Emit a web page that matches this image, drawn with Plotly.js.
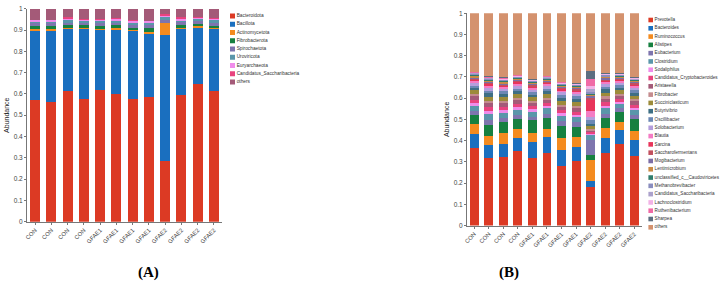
<!DOCTYPE html>
<html><head><meta charset="utf-8">
<script src="https://cdn.plot.ly/plotly-3.0.1.min.js"></script>
<style>html,body{margin:0;padding:0;background:#fff}#chart{width:720px;height:287px}</style>
</head><body><div id="chart"></div>
<script>
// ---------- shared ----------
const sampleIds = ['s1','s2','s3','s4','s5','s6','s7','s8','s9','s10','s11','s12'];
const sampleLabels = ['CON','CON','CON','CON','GFAE1','GFAE1','GFAE1','GFAE1','GFAE2','GFAE2','GFAE2','GFAE2'];

// ---------- panel A: phyla ----------
const phylaNames = ['Bacteroidota','Bacillota','Actinomycetota','Fibrobacterota','Spirochaetota','Uroviricota','Euryarchaeota','Candidatus_Saccharibacteria','others'];
const phylaColors = ['#DC3A24','#1A6FBF','#F48B1F','#168040','#7E75AE','#5A96AA','#F08CEB','#E8437E','#A45A78'];
const bacteroidota   = [0.571,0.560,0.612,0.578,0.617,0.601,0.575,0.586,0.283,0.593,0.648,0.615];
const bacillota      = [0.326,0.335,0.293,0.327,0.283,0.299,0.318,0.296,0.594,0.310,0.262,0.290];
const actinomycetota = [0.008,0.010,0.006,0.006,0.006,0.008,0.006,0.008,0.054,0.007,0.008,0.006];
const fibrobacterota = [0.012,0.012,0.012,0.012,0.014,0.014,0.012,0.018,0.004,0.014,0.010,0.010];
const spirochaetota  = [0.014,0.014,0.012,0.012,0.012,0.012,0.014,0.014,0.010,0.012,0.012,0.014];
const uroviricota    = [0.008,0.008,0.010,0.008,0.010,0.010,0.010,0.012,0.014,0.008,0.010,0.010];
const euryarchaeota  = [0.006,0.006,0.008,0.006,0.006,0.006,0.006,0.006,0.008,0.010,0.008,0.006];
const saccharibacteriaP = [0.004,0.004,0.006,0.004,0.004,0.006,0.006,0.004,0.010,0.008,0.004,0.004];
const othersP        = [0.051,0.051,0.041,0.047,0.048,0.044,0.053,0.056,0.023,0.038,0.038,0.045];
const phylaValues = [bacteroidota,bacillota,actinomycetota,fibrobacterota,spirochaetota,uroviricota,euryarchaeota,saccharibacteriaP,othersP];

// ---------- panel B: genera ----------
const genusNames = ['Prevotella','Bacteroides','Ruminococcus','Alistipes','Eubacterium','Clostridium','Sodaliphilus','Candidatus_Cryptobacteroides','Aristaeella','Fibrobacter','Succiniclasticum','Butyrivibrio','Oscillibacter','Solobacterium','Blautia','Sarcina','Saccharofermentans','Mogibacterium','Lentimicrobium','unclassified_c__Caudoviricetes','Methanobrevibacter','Candidatus_Saccharibacteria','Lachnoclostridium','Ruthenibacterium','Sharpea','others'];
const genusColors = ['#DC3A24','#1A6FBF','#F48B1F','#168040','#7E75AE','#5A96AA','#F08CEB','#E8437E','#A45A78','#C48C8E','#9C8B3A','#3E6F84','#6C88B4','#B49EDC','#F47CC4','#E8345A','#C2505E','#7C6EA6','#C98A44','#2F7D6C','#8A8DBE','#ACA2CC','#F2B2E6','#F06AA6','#5C6E80','#D4926E'];
const prevotella        = [0.367,0.319,0.325,0.352,0.316,0.344,0.281,0.306,0.183,0.344,0.384,0.328];
const bacteroides       = [0.063,0.062,0.061,0.060,0.078,0.071,0.075,0.066,0.027,0.068,0.068,0.073];
const ruminococcus      = [0.046,0.042,0.049,0.045,0.044,0.041,0.055,0.044,0.097,0.047,0.038,0.045];
const alistipes         = [0.044,0.052,0.051,0.044,0.057,0.050,0.056,0.048,0.026,0.047,0.047,0.055];
const eubacterium       = [0.019,0.024,0.022,0.020,0.018,0.020,0.024,0.022,0.072,0.020,0.016,0.019];
const clostridium       = [0.022,0.026,0.024,0.024,0.022,0.026,0.026,0.024,0.020,0.026,0.020,0.024];
const sodaliphilus      = [0.016,0.014,0.012,0.014,0.012,0.012,0.012,0.012,0.008,0.013,0.011,0.012];
const cryptobacteroides = [0.016,0.018,0.016,0.015,0.014,0.014,0.014,0.015,0.006,0.016,0.013,0.014];
const aristaeella       = [0.016,0.018,0.016,0.017,0.016,0.015,0.015,0.016,0.008,0.016,0.014,0.015];
const fibrobacter       = [0.012,0.012,0.012,0.011,0.010,0.010,0.010,0.010,0.006,0.011,0.010,0.010];
const succiniclasticum  = [0.016,0.020,0.018,0.017,0.017,0.016,0.018,0.018,0.014,0.018,0.016,0.017];
const butyrivibrio      = [0.013,0.016,0.014,0.014,0.013,0.014,0.016,0.015,0.010,0.015,0.013,0.014];
const oscillibacter     = [0.009,0.012,0.012,0.012,0.011,0.012,0.013,0.013,0.022,0.012,0.011,0.011];
const solobacterium     = [0.013,0.012,0.010,0.012,0.011,0.011,0.012,0.011,0.012,0.012,0.010,0.011];
const blautia           = [0.008,0.010,0.009,0.010,0.009,0.009,0.008,0.009,0.028,0.010,0.008,0.009];
const sarcina           = [0.006,0.008,0.007,0.007,0.007,0.007,0.006,0.007,0.052,0.007,0.006,0.007];
const saccharofermentans= [0.006,0.006,0.006,0.006,0.006,0.006,0.006,0.006,0.010,0.006,0.005,0.006];
const mogibacterium     = [0.005,0.006,0.005,0.005,0.005,0.005,0.006,0.005,0.008,0.005,0.005,0.005];
const lentimicrobium    = [0.006,0.006,0.006,0.005,0.005,0.005,0.005,0.005,0.004,0.005,0.005,0.005];
const caudoviricetes    = [0.006,0.002,0.004,0.004,0.004,0.004,0.004,0.004,0.006,0.004,0.004,0.004];
const methanobrevibacter= [0.005,0.005,0.005,0.004,0.004,0.004,0.004,0.004,0.008,0.005,0.004,0.004];
const saccharibacteriaG = [0.003,0.004,0.004,0.003,0.003,0.003,0.003,0.003,0.014,0.003,0.003,0.003];
const lachnoclostridium = [0.003,0.003,0.003,0.003,0.003,0.002,0.003,0.003,0.016,0.003,0.003,0.003];
const ruthenibacterium  = [0.003,0.003,0.003,0.003,0.002,0.002,0.002,0.002,0.034,0.003,0.002,0.002];
const sharpea           = [0.002,0.003,0.004,0.004,0.003,0.003,0.003,0.004,0.036,0.004,0.004,0.003];
const othersG           = [0.275,0.297,0.302,0.289,0.310,0.294,0.323,0.328,0.273,0.280,0.280,0.301];
const genusValues = [prevotella,bacteroides,ruminococcus,alistipes,eubacterium,clostridium,sodaliphilus,cryptobacteroides,aristaeella,fibrobacter,succiniclasticum,butyrivibrio,oscillibacter,solobacterium,blautia,sarcina,saccharofermentans,mogibacterium,lentimicrobium,caudoviricetes,methanobrevibacter,saccharibacteriaG,lachnoclostridium,ruthenibacterium,sharpea,othersG];

// ---------- traces ----------
const traces = [];
phylaNames.forEach((n,i)=>traces.push({type:'bar',name:n,x:sampleIds,y:phylaValues[i],xaxis:'x',yaxis:'y',
  marker:{color:phylaColors[i],line:{width:0}},showlegend:false}));
genusNames.forEach((n,i)=>traces.push({type:'bar',name:n,x:sampleIds,y:genusValues[i],xaxis:'x2',yaxis:'y2',
  marker:{color:genusColors[i],line:{width:0}},showlegend:false}));
// legend keys drawn as square markers with labels
traces.push({type:'scatter',mode:'markers+text',x:phylaNames.map(()=>0),y:phylaNames,text:phylaNames,
  xaxis:'x3',yaxis:'y3',textposition:'middle right',cliponaxis:false,showlegend:false,
  marker:{symbol:'square',size:5,color:phylaColors},textfont:{family:'Liberation Sans, Arial, sans-serif',size:4.8,color:'#333'}});
traces.push({type:'scatter',mode:'markers+text',x:genusNames.map(()=>0),y:genusNames,text:genusNames,
  xaxis:'x4',yaxis:'y4',textposition:'middle right',cliponaxis:false,showlegend:false,
  marker:{symbol:'square',size:4.6,color:genusColors},textfont:{family:'Liberation Sans, Arial, sans-serif',size:4.6,color:'#333'}});

const F = 'Liberation Sans, Arial, sans-serif';
const W = 720, H = 287;
function xdom(a,b){return [a/W,b/W];}
function ydom(top,bottom){return [1-bottom/H,1-top/H];}
const xCommon = {type:'category',tickvals:sampleIds,ticktext:sampleLabels,tickangle:-45,
  tickfont:{family:F,size:5.8,color:'#444'},showline:true,linecolor:'#777',linewidth:1,
  ticks:'outside',ticklen:2,tickcolor:'#777',showgrid:false,zeroline:false,fixedrange:true};
const yCommon = {range:[0,1],dtick:0.1,tick0:0,tickfont:{family:F,size:6.5,color:'#444'},
  showline:true,linecolor:'#777',linewidth:1,ticks:'outside',ticklen:2,tickcolor:'#777',
  showgrid:false,zeroline:false,fixedrange:true};

const layout = {
  width:W,height:H,autosize:false,margin:{l:0,r:0,t:0,b:0},
  paper_bgcolor:'#fff',plot_bgcolor:'#fff',barmode:'stack',bargap:0.39,hovermode:false,
  xaxis:Object.assign({},xCommon,{domain:xdom(27,222),anchor:'y'}),
  yaxis:Object.assign({},yCommon,{domain:ydom(8.7,221.7),anchor:'x',
    title:{text:'Abundance',font:{family:F,size:7,color:'#222'},standoff:3}}),
  xaxis2:Object.assign({},xCommon,{domain:xdom(467,641.5),anchor:'y2'}),
  yaxis2:Object.assign({},yCommon,{domain:ydom(13.3,225.5),anchor:'x2',
    title:{text:'Abundance',font:{family:F,size:7,color:'#222'},standoff:3}}),
  xaxis3:{domain:xdom(232.5,300),range:[0,1],visible:false,fixedrange:true,anchor:'y3'},
  yaxis3:{domain:ydom(11.875,86.125),type:'category',range:[8.5,-0.5],visible:false,fixedrange:true,anchor:'x3'},
  xaxis4:{domain:xdom(650.7,715),range:[0,1],visible:false,fixedrange:true,anchor:'y4'},
  yaxis4:{domain:ydom(15.85,231.45),type:'category',range:[25.5,-0.5],visible:false,fixedrange:true,anchor:'x4'},
  annotations:[
    {text:'<b>(A)</b>',xref:'paper',yref:'paper',x:148/W,y:1-272/H,xanchor:'center',yanchor:'middle',showarrow:false,
     font:{family:'Liberation Serif, Times New Roman, serif',size:15,color:'#000'}},
    {text:'<b>(B)</b>',xref:'paper',yref:'paper',x:509/W,y:1-272/H,xanchor:'center',yanchor:'middle',showarrow:false,
     font:{family:'Liberation Serif, Times New Roman, serif',size:15,color:'#000'}}
  ]
};
Plotly.newPlot('chart',traces,layout,{displayModeBar:false,staticPlot:true});
</script></body></html>
